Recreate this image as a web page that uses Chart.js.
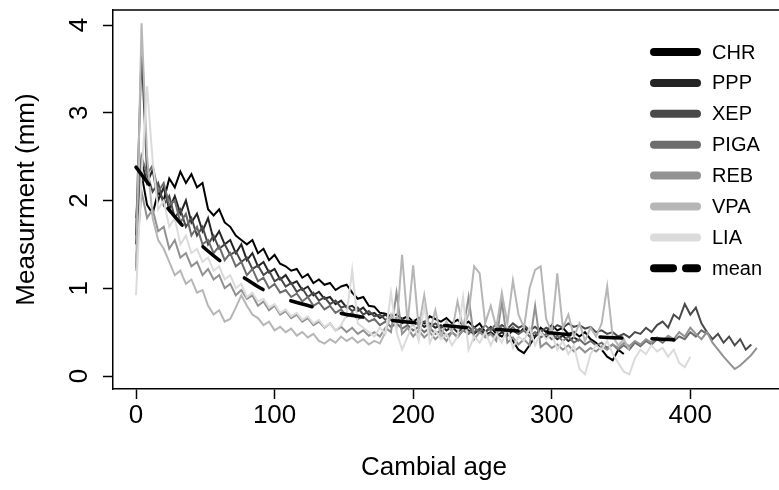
<!DOCTYPE html>
<html>
<head>
<meta charset="utf-8">
<script src="https://cdn.jsdelivr.net/npm/chart.js@4.4.1/dist/chart.umd.min.js"></script>
<style>
  html, body { margin: 0; padding: 0; background: #ffffff; }
  #wrap { width: 779px; height: 490px; }
</style>
</head>
<body>
<div id="wrap"><canvas id="c" width="779" height="490"></canvas></div>
<script>
// ---------------- DATA ----------------
const AGE_STEP = 4; // cambial age between successive values
const seriesNames = ["CHR", "PPP", "XEP", "PIGA", "REB", "VPA", "LIA"];
const seriesColors = ["#000000", "#242424", "#494949", "#6d6d6d", "#929292", "#b6b6b6", "#dbdbdb"];

const CHR = [1.23,2.3,1.95,1.85,2.1,2.0,2.25,2.15,2.33,2.2,2.3,2.15,2.2,1.9,1.83,1.9,1.75,1.7,1.6,1.55,1.5,1.55,1.4,1.45,1.32,1.38,1.28,1.25,1.2,1.22,1.12,1.16,1.06,1.1,1.04,1.06,0.98,1.02,1.04,0.95,0.88,0.9,0.8,0.79,0.72,0.71,0.68,0.7,0.65,0.68,0.62,0.66,0.6,0.68,0.65,0.62,0.66,0.6,0.64,0.58,0.62,0.55,0.6,0.5,0.56,0.48,0.45,0.5,0.4,0.3,0.26,0.35,0.45,0.55,0.5,0.58,0.52,0.55,0.48,0.5,0.45,0.5,0.42,0.38,0.3,0.22,0.18,0.3,0.25];
const PPP = [1.5,2.45,2.2,2.35,2.0,2.15,1.9,2.05,1.85,2.0,1.75,1.85,1.65,1.8,1.55,1.65,1.5,1.55,1.4,1.5,1.32,1.4,1.25,1.3,1.18,1.22,1.1,1.15,1.05,1.08,0.98,1.02,0.92,0.96,0.88,0.9,0.82,0.86,0.78,0.8,0.74,0.78,0.7,0.72,0.66,0.7,0.64,0.66,0.6,0.64,0.58,0.62,0.56,0.6,0.55,0.58,0.52,0.56,0.5,0.55,0.52,0.48,0.53,0.47,0.5,0.45,0.5,0.46,0.52,0.48,0.55,0.5,0.45,0.5,0.44,0.48,0.42,0.46,0.4,0.44,0.4];
const XEP = [1.6,3.7,2.3,2.1,2.2,1.95,2.05,1.8,1.9,1.7,1.8,1.6,1.7,1.5,1.6,1.45,1.5,1.38,1.42,1.3,1.35,1.22,1.26,1.15,1.2,1.08,1.12,1.02,1.06,0.96,1.0,0.9,0.95,0.86,0.9,0.82,0.86,0.78,0.8,0.74,0.78,0.7,0.74,0.68,0.7,0.64,0.68,0.62,0.65,0.6,0.63,0.58,0.62,0.56,0.6,0.55,0.58,0.54,0.57,0.52,0.56,0.5,0.54,0.5,0.55,0.52,0.58,0.54,0.6,0.55,0.58,0.52,0.56,0.5,0.55,0.52,0.58,0.55,0.6,0.56,0.58,0.54,0.56,0.5,0.52,0.48,0.5,0.45,0.48,0.44,0.5,0.48,0.55,0.5,0.58,0.62,0.55,0.7,0.65,0.82,0.7,0.78,0.6,0.5,0.42,0.48,0.38,0.45,0.35,0.42,0.3,0.36];
const PIGA = [1.8,2.5,2.3,2.4,2.1,2.2,1.95,2.0,1.75,1.85,1.6,1.7,1.5,1.55,1.4,1.48,1.32,1.4,1.25,1.3,1.15,1.22,1.08,1.12,1.0,1.05,0.95,0.98,0.9,0.94,0.85,0.9,0.8,0.84,0.76,0.8,0.72,0.76,0.68,0.72,0.65,0.68,0.62,0.65,0.58,0.62,0.56,0.6,0.54,0.58,0.52,0.56,0.5,0.55,0.48,0.52,0.46,0.5,0.45,0.52,0.48,0.55,0.5,0.58,0.52,0.6,0.54,0.5,0.56,0.48,0.52,0.45,0.5,0.44,0.48,0.42,0.46,0.4,0.45,0.38,0.42,0.36,0.4,0.35,0.38,0.32,0.36,0.3,0.35,0.3,0.38,0.34,0.4,0.36,0.42,0.38,0.44,0.4,0.45,0.42,0.5,0.45,0.52,0.48];
const REB = [1.3,2.1,1.8,1.9,1.65,1.7,1.45,1.55,1.35,1.4,1.25,1.3,1.15,1.22,1.1,1.15,1.0,1.05,0.92,0.98,0.88,0.92,0.8,0.85,0.75,0.8,0.7,0.74,0.66,0.7,0.62,0.66,0.58,0.62,0.55,0.6,0.52,0.56,0.5,0.55,0.48,0.52,0.46,0.5,0.45,0.55,0.5,0.95,0.48,0.55,0.45,0.52,0.44,0.5,0.42,0.48,0.4,0.5,0.44,0.52,0.9,0.42,0.5,0.44,0.48,0.4,0.85,0.38,0.44,0.36,0.42,0.35,0.8,0.33,0.38,0.32,0.36,0.3,0.35,0.28,0.33,0.27,0.32,0.28,0.34,0.3,0.36,0.32,0.38,0.34,0.4,0.36,0.42,0.38,0.44,0.4,0.46,0.42,0.5,0.45,0.55,0.48,0.42,0.5,0.38,0.3,0.22,0.15,0.08,0.12,0.18,0.24,0.32];
const VPA = [1.2,4.02,2.5,1.8,1.55,1.45,1.3,1.15,1.2,1.05,1.1,0.95,0.98,0.8,0.7,0.75,0.62,0.65,0.78,0.92,0.8,0.7,0.66,0.58,0.62,0.52,0.56,0.5,0.54,0.46,0.5,0.44,0.48,0.4,0.37,0.42,0.38,0.45,0.4,0.44,0.38,0.42,0.36,0.4,0.37,0.5,0.7,0.55,1.38,0.6,1.26,0.55,0.92,0.5,0.75,0.45,0.62,0.5,0.85,0.55,0.7,1.25,1.17,0.6,0.8,0.55,0.95,0.6,1.09,0.7,0.55,1.0,1.21,1.25,0.65,0.5,1.17,0.55,0.7,0.45,0.6,0.4,0.55,0.45,0.6,1.02,0.45,0.35,0.42,0.3];
const LIA = [0.92,2.3,3.3,2.45,1.9,2.0,1.7,1.8,1.5,1.6,1.4,1.45,1.3,1.35,1.2,1.25,1.1,1.15,1.0,1.05,0.9,0.95,0.85,0.88,0.78,0.82,0.72,0.76,0.68,0.72,0.64,0.68,0.6,0.64,0.56,0.6,0.52,0.58,0.7,1.21,0.6,0.55,0.5,0.45,0.55,0.48,0.95,0.5,0.3,0.45,0.62,0.4,0.8,0.38,0.52,0.42,0.48,0.35,0.45,0.9,0.3,0.45,0.38,0.5,0.35,0.48,0.38,0.55,0.32,0.45,0.4,0.55,0.35,0.5,0.42,0.48,0.3,0.4,0.25,0.35,0.08,0.02,0.25,0.35,0.3,0.4,0.25,0.15,0.05,0.02,0.2,0.3,0.25,0.35,0.28,0.32,0.22,0.3,0.15,0.1,0.22];
const seriesValues = [CHR, PPP, XEP, PIGA, REB, VPA, LIA];

const meanAges = [0,10,20,30,40,50,60,70,80,90,100,120,140,160,180,200,220,240,260,280,300,320,340,360,380,400];
const meanVals = [2.38,2.17,1.97,1.78,1.6,1.45,1.32,1.2,1.1,1.0,0.92,0.82,0.74,0.68,0.64,0.61,0.58,0.55,0.53,0.51,0.49,0.46,0.44,0.43,0.42,0.40];

const xTicks = [0, 100, 200, 300, 400];
const yTicks = [0, 1, 2, 3, 4];
const xTitle = "Cambial age";
const yTitle = "Measurment (mm)";

// ---------------- CHART ----------------
const FONT = '"Liberation Sans", Arial, Helvetica, sans-serif';
Chart.defaults.font.family = FONT;
Chart.defaults.color = "#000";

const datasets = seriesNames.map((name, i) => ({
  label: name,
  data: seriesValues[i].map((v, k) => ({ x: k * AGE_STEP, y: v })),
  borderColor: seriesColors[i],
  borderWidth: 2,
  pointRadius: 0,
  tension: 0,
  fill: false,
  order: seriesNames.length - i + 1
}));
datasets.push({
  label: "mean",
  data: meanAges.map((a, k) => ({ x: a, y: meanVals[k] })),
  borderColor: "#000",
  borderWidth: 3.5,
  borderDash: [22, 30],
  borderCapStyle: "round",
  pointRadius: 0,
  tension: 0.4,
  cubicInterpolationMode: "monotone",
  fill: false,
  order: 0
});

const overlay = {
  id: "overlay",
  afterDraw(chart) {
    const { ctx, chartArea: a, scales: { y } } = chart;
    ctx.save();
    // top border of the plot box
    ctx.strokeStyle = "#000";
    ctx.lineWidth = 1.5;
    ctx.beginPath();
    ctx.moveTo(a.left, a.top);
    ctx.lineTo(a.right, a.top);
    ctx.stroke();

    // rotated y tick labels
    ctx.fillStyle = "#000";
    ctx.font = "26px " + FONT;
    ctx.textAlign = "center";
    ctx.textBaseline = "middle";
    y.ticks.forEach(t => {
      const py = y.getPixelForValue(t.value);
      ctx.save();
      ctx.translate(80, py);
      ctx.rotate(-Math.PI / 2);
      ctx.fillText(String(t.value), 0, 0);
      ctx.restore();
    });

    // axis titles
    ctx.fillText(xTitle, (a.left + a.right) / 2 - 12, 468);
    ctx.save();
    ctx.translate(27, (a.top + a.bottom) / 2);
    ctx.rotate(-Math.PI / 2);
    ctx.fillText(yTitle, 0, 0);
    ctx.restore();

    // legend
    const lx0 = 654, lx1 = 697, tx = 712, ty0 = 52, dy = 30.9;
    ctx.font = "20px " + FONT;
    ctx.textAlign = "left";
    ctx.lineCap = "round";
    ctx.lineWidth = 8;
    seriesNames.forEach((n, i) => {
      const yy = ty0 + i * dy;
      ctx.strokeStyle = seriesColors[i];
      ctx.beginPath();
      ctx.moveTo(lx0, yy);
      ctx.lineTo(lx1, yy);
      ctx.stroke();
      ctx.fillStyle = "#000";
      ctx.fillText(n, tx, yy + 1);
    });
    const ym = ty0 + seriesNames.length * dy;
    ctx.strokeStyle = "#000";
    ctx.beginPath();
    ctx.moveTo(654, ym); ctx.lineTo(673, ym);
    ctx.moveTo(686, ym); ctx.lineTo(697, ym);
    ctx.stroke();
    ctx.fillStyle = "#000";
    ctx.fillText("mean", tx, ym + 1);
    ctx.restore();
  }
};

new Chart(document.getElementById("c"), {
  type: "line",
  data: { datasets },
  options: {
    responsive: false,
    animation: false,
    devicePixelRatio: 1,
    layout: { padding: { top: 10, right: 0, left: 0, bottom: 0 } },
    plugins: { legend: { display: false }, tooltip: { enabled: false } },
    scales: {
      x: {
        type: "linear",
        min: -16.6,
        max: 464,
        afterBuildTicks: s => { s.ticks = xTicks.map(v => ({ value: v })); },
        afterFit: s => { s.height = 101; },
        grid: { display: true, drawOnChartArea: false, drawTicks: true, tickLength: 10, tickColor: "#000", tickWidth: 1.5 },
        border: { display: true, color: "#000", width: 1.5 },
        ticks: { font: { size: 26 }, color: "#000", padding: 1, maxRotation: 0, autoSkip: false }
      },
      y: {
        type: "linear",
        min: -0.148,
        max: 4.171,
        afterBuildTicks: s => { s.ticks = yTicks.map(v => ({ value: v })); },
        afterFit: s => { s.width = 113; },
        grid: { display: true, drawOnChartArea: false, drawTicks: true, tickLength: 10, tickColor: "#000", tickWidth: 1.5 },
        border: { display: true, color: "#000", width: 1.5 },
        ticks: { display: false }
      }
    }
  },
  plugins: [overlay]
});
</script>
</body>
</html>
